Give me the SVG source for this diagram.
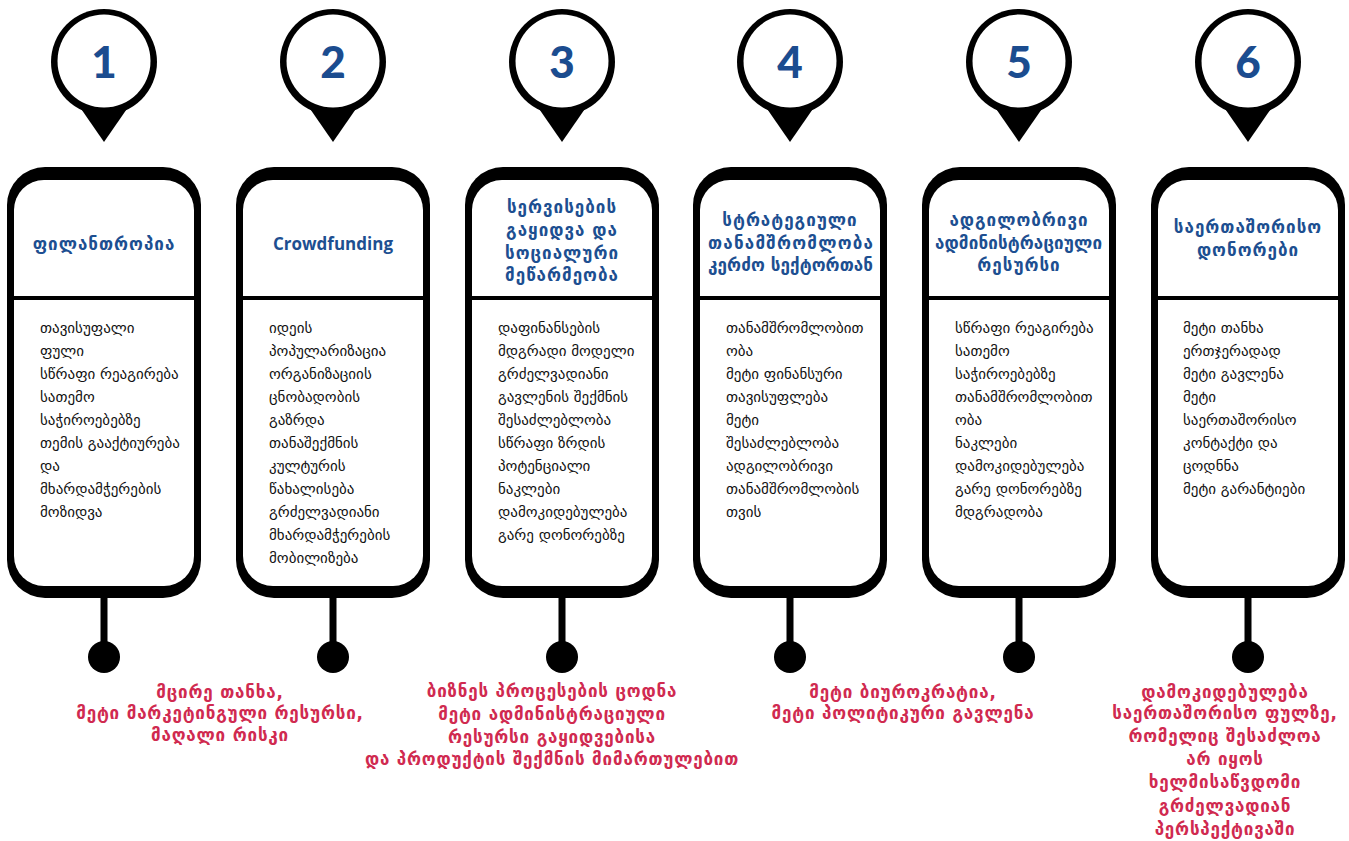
<svg xmlns="http://www.w3.org/2000/svg" xmlns:xlink="http://www.w3.org/1999/xlink" width="1349" height="841" viewBox="0 0 1349 841">
<style>
.num{font-family:Lato,"DejaVu Sans",sans-serif;font-weight:900;font-size:44px;fill:#1b4c8f;text-anchor:middle}
.ttl{font-family:"DejaVu Sans",sans-serif;font-weight:bold;font-size:17px;letter-spacing:1px;fill:#1d4f91;text-anchor:middle}
.ttlL{font-family:"Open Sans","DejaVu Sans",sans-serif;font-weight:bold;font-size:17px;fill:#1d4f91;text-anchor:middle}
.body{font-family:"DejaVu Sans",sans-serif;font-size:15px;fill:#111}
.note{font-family:"DejaVu Sans",sans-serif;font-weight:bold;font-size:17px;letter-spacing:0.8px;fill:#d02a50;text-anchor:middle}
</style>
<defs>
<g id="card">
<rect x="-97" y="167" width="194" height="431" rx="38" fill="#000"/>
<rect x="-90" y="180" width="180" height="406" rx="30" fill="#fff"/>
<rect x="-90" y="296" width="180" height="4" fill="#000"/>
</g>
<g id="pin">
<circle cx="0" cy="62" r="53" fill="#000"/>
<polygon points="-27,103 27,103 0,142" fill="#000"/>
<circle cx="0" cy="61" r="46.5" fill="#fff"/>
</g>
<g id="stem">
<rect x="-3.5" y="596" width="7" height="50" fill="#000"/>
<circle cx="0" cy="657" r="16" fill="#000"/>
</g>
</defs>
<rect width="1349" height="841" fill="#fff"/>
<g id="connectors">
<use xlink:href="#stem" transform="translate(104,0)"/>
<use xlink:href="#stem" transform="translate(333,0)"/>
<use xlink:href="#stem" transform="translate(562,0)"/>
<use xlink:href="#stem" transform="translate(790,0)"/>
<use xlink:href="#stem" transform="translate(1019,0)"/>
<use xlink:href="#stem" transform="translate(1248,0)"/>
</g>
<g id="node1">
<use xlink:href="#pin" transform="translate(104,0)"/>
<text class="num" x="104" y="78">1</text>
<use xlink:href="#card" transform="translate(104,0)"/>
<text class="ttl" x="104" y="250">ფილანთროპია</text>
<text class="body" x="40"><tspan x="40" y="333">თავისუფალი</tspan><tspan x="40" y="356">ფული</tspan><tspan x="40" y="379">სწრაფი რეაგირება</tspan><tspan x="40" y="402">სათემო</tspan><tspan x="40" y="425">საჭიროებებზე</tspan><tspan x="40" y="448">თემის გააქტიურება</tspan><tspan x="40" y="471">და</tspan><tspan x="40" y="494">მხარდამჭერების</tspan><tspan x="40" y="517">მოზიდვა</tspan></text>
</g>
<g id="node2">
<use xlink:href="#pin" transform="translate(333,0)"/>
<text class="num" x="333" y="78">2</text>
<use xlink:href="#card" transform="translate(333,0)"/>
<text class="ttlL" x="333" y="250">Crowdfunding</text>
<text class="body"><tspan x="269" y="333">იდეის</tspan><tspan x="269" y="356">პოპულარიზაცია</tspan><tspan x="269" y="379">ორგანიზაციის</tspan><tspan x="269" y="402">ცნობადობის</tspan><tspan x="269" y="425">გაზრდა</tspan><tspan x="269" y="448">თანაშექმნის</tspan><tspan x="269" y="471">კულტურის</tspan><tspan x="269" y="494">წახალისება</tspan><tspan x="269" y="517">გრძელვადიანი</tspan><tspan x="269" y="540">მხარდამჭერების</tspan><tspan x="269" y="563">მობილიზება</tspan></text>
</g>
<g id="node3">
<use xlink:href="#pin" transform="translate(562,0)"/>
<text class="num" x="562" y="78">3</text>
<use xlink:href="#card" transform="translate(562,0)"/>
<text class="ttl"><tspan x="562" y="213">სერვისების</tspan><tspan x="562" y="236">გაყიდვა და</tspan><tspan x="562" y="259">სოციალური</tspan><tspan x="562" y="281">მეწარმეობა</tspan></text>
<text class="body"><tspan x="498" y="333">დაფინანსების</tspan><tspan x="498" y="356">მდგრადი მოდელი</tspan><tspan x="498" y="379">გრძელვადიანი</tspan><tspan x="498" y="402">გავლენის შექმნის</tspan><tspan x="498" y="425">შესაძლებლობა</tspan><tspan x="498" y="448">სწრაფი ზრდის</tspan><tspan x="498" y="471">პოტენციალი</tspan><tspan x="498" y="494">ნაკლები</tspan><tspan x="498" y="517">დამოკიდებულება</tspan><tspan x="498" y="540">გარე დონორებზე</tspan></text>
</g>
<g id="node4">
<use xlink:href="#pin" transform="translate(790,0)"/>
<text class="num" x="790" y="78">4</text>
<use xlink:href="#card" transform="translate(790,0)"/>
<text class="ttl" x="790" y="226">სტრატეგიული</text>
<text class="ttl" x="791" y="249" textLength="166" lengthAdjust="spacing">თანამშრომლობა</text>
<text class="ttl" x="791" y="271" textLength="166" lengthAdjust="spacing">კერძო სექტორთან</text>
<text class="body"><tspan x="726" y="333">თანამშრომლობით</tspan><tspan x="726" y="356">ობა</tspan><tspan x="726" y="379">მეტი ფინანსური</tspan><tspan x="726" y="402">თავისუფლება</tspan><tspan x="726" y="425">მეტი</tspan><tspan x="726" y="448">შესაძლებლობა</tspan><tspan x="726" y="471">ადგილობრივი</tspan><tspan x="726" y="494">თანამშრომლობის</tspan><tspan x="726" y="517">თვის</tspan></text>
</g>
<g id="node5">
<use xlink:href="#pin" transform="translate(1019,0)"/>
<text class="num" x="1019" y="78">5</text>
<use xlink:href="#card" transform="translate(1019,0)"/>
<text class="ttl" x="1019" y="226">ადგილობრივი</text>
<text class="ttl" x="1019" y="249" textLength="168" lengthAdjust="spacing">ადმინისტრაციული</text>
<text class="ttl" x="1019" y="271">რესურსი</text>
<text class="body"><tspan x="955" y="333">სწრაფი რეაგირება</tspan><tspan x="955" y="356">სათემო</tspan><tspan x="955" y="379">საჭიროებებზე</tspan><tspan x="955" y="402">თანამშრომლობით</tspan><tspan x="955" y="425">ობა</tspan><tspan x="955" y="448">ნაკლები</tspan><tspan x="955" y="471">დამოკიდებულება</tspan><tspan x="955" y="494">გარე დონორებზე</tspan><tspan x="955" y="517">მდგრადობა</tspan></text>
</g>
<g id="node6">
<use xlink:href="#pin" transform="translate(1248,0)"/>
<text class="num" x="1248" y="78">6</text>
<use xlink:href="#card" transform="translate(1248,0)"/>
<text class="ttl"><tspan x="1248" y="233">საერთაშორისო</tspan><tspan x="1248" y="256">დონორები</tspan></text>
<text class="body"><tspan x="1183" y="333">მეტი თანხა</tspan><tspan x="1183" y="356">ერთჯერადად</tspan><tspan x="1183" y="379">მეტი გავლენა</tspan><tspan x="1183" y="402">მეტი</tspan><tspan x="1183" y="425">საერთაშორისო</tspan><tspan x="1183" y="448">კონტაქტი და</tspan><tspan x="1183" y="471">ცოდნნა</tspan><tspan x="1183" y="494">მეტი გარანტიები</tspan></text>
</g>
<g id="notes">
<text class="note"><tspan x="220" y="698">მცირე თანხა,</tspan><tspan x="220" y="719">მეტი მარკეტინგული რესურსი,</tspan><tspan x="220" y="741">მაღალი რისკი</tspan></text>
<text class="note"><tspan x="552" y="697">ბიზნეს პროცესების ცოდნა</tspan><tspan x="552" y="720">მეტი ადმინისტრაციული</tspan><tspan x="552" y="743">რესურსი გაყიდვებისა</tspan><tspan x="552" y="765">და პროდუქტის შექმნის მიმართულებით</tspan></text>
<text class="note"><tspan x="903" y="698">მეტი ბიუროკრატია,</tspan><tspan x="903" y="719">მეტი პოლიტიკური გავლენა</tspan></text>
<text class="note"><tspan x="1225" y="698">დამოკიდებულება</tspan><tspan x="1225" y="719">საერთაშორისო ფულზე,</tspan><tspan x="1225" y="742">რომელიც შესაძლოა</tspan><tspan x="1225" y="765">არ იყოს</tspan><tspan x="1225" y="788">ხელმისაწვდომი</tspan><tspan x="1225" y="812">გრძელვადიან</tspan><tspan x="1225" y="835">პერსპექტივაში</tspan></text>
</g>
</svg>
